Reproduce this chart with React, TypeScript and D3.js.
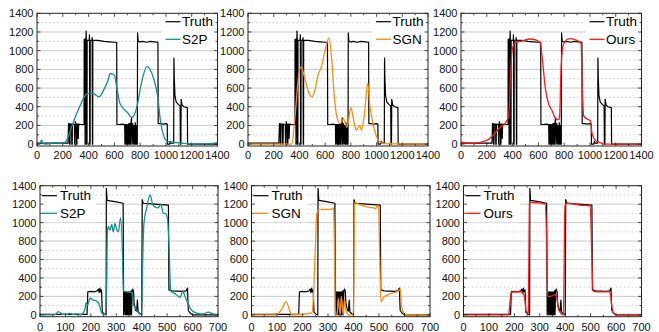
import React from 'react';
import * as d3 from 'd3';

// ---------- DATA ----------
const topXTicks = [0, 200, 400, 600, 800, 1000, 1200, 1400];
const bottomXTicks = [0, 100, 200, 300, 400, 500, 600, 700];
const yTicks = [0, 200, 400, 600, 800, 1000, 1200, 1400];

const topTruthX = [0, 240, 245, 250, 252, 256, 258, 268, 270, 273, 275, 290, 292, 295, 297, 300, 305, 307, 310, 312, 318, 320, 323, 340, 365, 366, 372, 373, 375, 376, 380, 381, 383, 385, 388, 389, 405, 407, 409, 412, 413, 426, 428, 430, 432, 433, 470, 520, 560, 600, 618, 620, 640, 660, 680, 682, 685, 690, 692, 695, 700, 703, 707, 712, 716, 720, 724, 728, 733, 736, 742, 747, 752, 757, 762, 766, 770, 775, 778, 780, 785, 800, 820, 850, 880, 910, 938, 940, 960, 980, 1000, 1010, 1012, 1030, 1035, 1040, 1060, 1062, 1065, 1070, 1080, 1100, 1110, 1112, 1116, 1118, 1125, 1140, 1166, 1168, 1400];
const topTruthY = [10, 10, 220, 220, 0, 0, 215, 215, 0, 0, 215, 210, 0, 0, 240, 220, 215, 0, 0, 215, 215, 60, 215, 210, 210, 1120, 1120, 0, 0, 1130, 1120, 1210, 1120, 0, 0, 1110, 1110, 1170, 0, 0, 1110, 1110, 1140, 0, 0, 1110, 1110, 1100, 1095, 1090, 1090, 210, 210, 215, 210, 0, 210, 210, 0, 210, 0, 210, 0, 220, 0, 220, 0, 220, 280, 0, 220, 0, 200, 0, 230, 0, 200, 0, 0, 1190, 1100, 1095, 1100, 1090, 1100, 1095, 1090, 220, 220, 215, 220, 215, 0, 0, 30, 10, 10, 920, 700, 520, 450, 420, 410, 0, 0, 480, 420, 400, 390, 0, 0];

const topS2PX = [0, 20, 36, 48, 70, 140, 200, 230, 260, 300, 340, 380, 412, 440, 482, 510, 550, 568, 600, 620, 640, 670, 700, 737, 775, 805, 853, 905, 937, 957, 985, 1010, 1050, 1100, 1150, 1200, 1350, 1400];
const topS2PY = [0, 5, 43, 5, 0, 15, 5, 40, 150, 300, 430, 530, 549, 540, 506, 560, 680, 756, 740, 600, 450, 380, 340, 285, 400, 620, 830, 700, 500, 250, 80, 30, 20, 15, 5, 0, 5, 15];

const topSGNX = [0, 340, 366, 391, 412, 443, 470, 499, 521, 545, 570, 599, 630, 651, 672, 690, 717, 743, 769, 782, 799, 830, 843, 869, 882, 908, 931, 949, 975, 1014, 1050, 1400];
const topSGNY = [0, 0, 300, 700, 827, 700, 560, 505, 580, 740, 820, 1000, 1138, 900, 500, 300, 220, 270, 180, 250, 392, 200, 150, 200, 150, 350, 649, 400, 200, 40, 5, 0];

const topOursX = [0, 96, 200, 230, 278, 303, 342, 370, 383, 396, 422, 460, 538, 615, 628, 654, 680, 706, 731, 757, 765, 776, 791, 822, 848, 913, 931, 941, 952, 978, 1004, 1016, 1042, 1081, 1120, 1400];
const topOursY = [20, 10, 40, 70, 140, 180, 221, 300, 700, 1000, 1090, 1100, 1125, 1090, 950, 600, 430, 360, 280, 260, 300, 800, 1050, 1120, 1130, 1100, 1080, 600, 300, 270, 250, 120, 40, 15, 0, 0];

const botTruthX = [0, 185, 188, 200, 215, 225, 230, 233, 236, 238, 242, 245, 252, 258, 260, 261, 264, 300, 327, 329, 333, 335, 338, 340, 343, 345, 348, 350, 353, 355, 358, 360, 362, 365, 368, 370, 376, 380, 383, 386, 395, 400, 402, 406, 450, 505, 507, 520, 560, 575, 580, 583, 590, 600, 700];
const botTruthY = [5, 5, 250, 255, 250, 260, 280, 240, 290, 250, 270, 30, 10, 0, 0, 1370, 1240, 1225, 1210, 0, 250, 0, 250, 0, 250, 0, 250, 0, 250, 0, 260, 0, 260, 280, 250, 130, 50, 40, 160, 30, 10, 0, 1250, 1210, 1200, 1190, 270, 260, 255, 260, 290, 50, 20, 0, 0];

const botS2PX = [0, 60, 72, 90, 105, 115, 130, 147, 161, 177, 181, 186, 197, 210, 223, 230, 236, 243, 252, 256, 262, 265, 269, 275, 282, 288, 295, 301, 308, 317, 324, 328, 341, 361, 367, 380, 393, 400, 404, 409, 419, 433, 443, 452, 465, 475, 485, 492, 501, 508, 514, 531, 544, 551, 557, 561, 570, 583, 596, 616, 642, 662, 681, 700];
const botS2PY = [0, 2, 36, 5, 5, 15, 5, 10, 0, 60, 133, 100, 180, 160, 150, 130, 80, 20, 5, 10, 300, 900, 960, 920, 980, 900, 990, 930, 900, 1050, 700, 260, 250, 240, 120, 50, 10, 0, 600, 1000, 1150, 1300, 1200, 1170, 1160, 1200, 1100, 1100, 1050, 700, 260, 230, 200, 190, 230, 260, 200, 120, 50, 20, 10, 30, 10, 0];

const botSGNX = [0, 99, 118, 136, 148, 158, 237, 243, 250, 256, 263, 315, 322, 326, 329, 336, 340, 348, 352, 360, 364, 372, 381, 400, 404, 420, 453, 479, 487, 492, 498, 503, 508, 518, 537, 558, 577, 584, 588, 597, 610, 700];
const botSGNY = [0, 0, 60, 144, 60, 0, 20, 200, 700, 1100, 1140, 1145, 1160, 600, 0, 0, 180, 0, 200, 0, 160, 30, 0, 0, 1220, 1200, 1170, 1160, 1150, 1180, 1180, 600, 140, 190, 220, 240, 260, 280, 100, 20, 0, 0];

const botOursX = [0, 178, 180, 188, 196, 222, 235, 242, 246, 255, 259, 262, 288, 321, 327, 331, 340, 360, 366, 373, 382, 393, 399, 406, 458, 498, 505, 509, 524, 576, 583, 589, 602, 700];
const botOursY = [0, 0, 50, 240, 250, 250, 230, 150, 40, 20, 1200, 1220, 1215, 1200, 800, 200, 200, 220, 200, 70, 20, 0, 1180, 1210, 1190, 1180, 600, 260, 250, 250, 100, 20, 0, 0];

// ---------- LAYOUT ----------
const W = 659;
const H = 332;
const TEAL = '#138f8f';
const ORANGE = '#ff8c0a';
const RED = '#ff1a1a';
const FONT = '"Liberation Sans", Arial, sans-serif';

type Frame = { left: number; right: number; top: number; bottom: number };

interface PanelProps {
  id: string;
  frame: Frame;
  xMax: number;
  xTicks: number[];
  xMinorStep: number;
  truthX: number[];
  truthY: number[];
  predX: number[];
  predY: number[];
  color: string;
  name: string;
  legendRight: boolean;
  labelDy: number;
  legendRows: [number, number];
}

function Panel(p: PanelProps) {
  const { frame } = p;
  const x = d3.scaleLinear().domain([0, p.xMax]).range([frame.left, frame.right]);
  const y = d3.scaleLinear().domain([-20, 1400]).range([frame.bottom, frame.top]);
  const truth = p.truthX.map((v, i) => [v, p.truthY[i]] as [number, number]);
  const pred = p.predX.map((v, i) => [v, p.predY[i]] as [number, number]);
  const lineLin = d3.line<[number, number]>().x(d => x(d[0])).y(d => y(d[1]));
  const lineSmooth = d3
    .line<[number, number]>()
    .x(d => x(d[0]))
    .y(d => y(d[1]))
    .curve(d3.curveMonotoneX);
  const minorY = d3.range(100, 1400, 200);
  const majorY = d3.range(200, 1400, 200);
  const xMinor = d3.range(0, p.xMax + 1, p.xMinorStep);
  const yMinorTicks = d3.range(0, 1401, 100);

  const legW = 56;
  const legX = p.legendRight ? frame.right - legW : frame.left + 1;
  const lineX0 = p.legendRight ? frame.right - 52 : frame.left + 2;
  const textX = lineX0 + (p.legendRight ? 16.5 : 18);
  const r1 = frame.top + p.legendRows[0];
  const r2 = frame.top + p.legendRows[1];

  return (
    <g>
      <defs>
        <clipPath id={p.id}>
          <rect x={frame.left} y={frame.top} width={frame.right - frame.left} height={frame.bottom - frame.top} />
        </clipPath>
      </defs>
      <rect x={frame.left} y={frame.top} width={frame.right - frame.left} height={frame.bottom - frame.top} fill="#fff" />
      {minorY.map(v => (
        <line key={'mi' + v} x1={frame.left} x2={frame.right} y1={y(v)} y2={y(v)} stroke="#cfcfcf" strokeWidth={0.8} strokeDasharray="2,2" />
      ))}
      {majorY.map(v => (
        <line key={'ma' + v} x1={frame.left} x2={frame.right} y1={y(v)} y2={y(v)} stroke="#c4c4c4" strokeWidth={0.9} />
      ))}
      <g clipPath={`url(#${p.id})`}>
        <path d={lineLin(truth) || ''} fill="none" stroke="#000" strokeWidth={1.2} strokeLinejoin="round" />
        <path d={lineSmooth(pred) || ''} fill="none" stroke={p.color} strokeWidth={1.3} strokeLinejoin="round" />
      </g>
      {/* legend */}
      <rect x={legX} y={frame.top + 1} width={legW - 1} height={p.legendRows[1] + 8} fill="#fff" />
      <line x1={lineX0} x2={lineX0 + 15} y1={r1} y2={r1} stroke="#000" strokeWidth={1.2} />
      <text x={textX} y={r1} dy="0.35em" fontSize={13.5} fontFamily={FONT} fill="#000">Truth</text>
      <line x1={lineX0} x2={lineX0 + 15} y1={r2} y2={r2} stroke={p.color} strokeWidth={1.3} />
      <text x={textX} y={r2} dy="0.35em" fontSize={13.5} fontFamily={FONT} fill="#000">{p.name}</text>
      {/* ticks */}
      {xMinor.map(v => {
        const major = p.xTicks.includes(v);
        const l = major ? 3.5 : 2;
        return (
          <g key={'xt' + v}>
            <line x1={x(v)} x2={x(v)} y1={frame.bottom} y2={frame.bottom - l} stroke="#222" strokeWidth={0.8} />
            <line x1={x(v)} x2={x(v)} y1={frame.top} y2={frame.top + l} stroke="#222" strokeWidth={0.8} />
          </g>
        );
      })}
      {yMinorTicks.map(v => {
        const major = v % 200 === 0;
        const l = major ? 3.5 : 2;
        return (
          <g key={'yt' + v}>
            <line x1={frame.left} x2={frame.left + l} y1={y(v)} y2={y(v)} stroke="#222" strokeWidth={0.8} />
            <line x1={frame.right} x2={frame.right - l} y1={y(v)} y2={y(v)} stroke="#222" strokeWidth={0.8} />
          </g>
        );
      })}
      <rect x={frame.left} y={frame.top} width={frame.right - frame.left} height={frame.bottom - frame.top} fill="none" stroke="#222" strokeWidth={1} />
      {yTicks.map(v => (
        <text key={'yl' + v} x={frame.left - 3.5} y={y(v)} dy="0.36em" textAnchor="end" fontSize={11} fontFamily={FONT} fill="#111">
          {v}
        </text>
      ))}
      {p.xTicks.map(v => (
        <text key={'xl' + v} x={x(v)} y={frame.bottom + p.labelDy} textAnchor="middle" fontSize={11} fontFamily={FONT} fill="#111">
          {v}
        </text>
      ))}
    </g>
  );
}

export default function App() {
  const topF = (l: number, r: number): Frame => ({ left: l, right: r, top: 13.3, bottom: 146 });
  const botF = (l: number, r: number): Frame => ({ left: l, right: r, top: 185.7, bottom: 316.7 });
  return (
    <svg width={W} height={H} style={{ position: 'absolute', left: 0, top: 0, background: '#fff' }}>
      <rect width={W} height={H} fill="#fff" />
      <Panel id="c1" frame={topF(37, 217.5)} xMax={1400} xTicks={topXTicks} xMinorStep={100} truthX={topTruthX} truthY={topTruthY} predX={topS2PX} predY={topS2PY} color={TEAL} name="S2P" legendRight={true} labelDy={13} legendRows={[8.4, 26]} />
      <Panel id="c2" frame={topF(248, 428)} xMax={1400} xTicks={topXTicks} xMinorStep={100} truthX={topTruthX} truthY={topTruthY} predX={topSGNX} predY={topSGNY} color={ORANGE} name="SGN" legendRight={true} labelDy={13} legendRows={[8.4, 26]} />
      <Panel id="c3" frame={topF(461, 641.5)} xMax={1400} xTicks={topXTicks} xMinorStep={100} truthX={topTruthX} truthY={topTruthY} predX={topOursX} predY={topOursY} color={RED} name="Ours" legendRight={true} labelDy={13} legendRows={[8.4, 26]} />
      <Panel id="c4" frame={botF(40, 218)} xMax={700} xTicks={bottomXTicks} xMinorStep={50} truthX={botTruthX} truthY={botTruthY} predX={botS2PX} predY={botS2PY} color={TEAL} name="S2P" legendRight={false} labelDy={13.8} legendRows={[10, 27.6]} />
      <Panel id="c5" frame={botF(251.5, 430)} xMax={700} xTicks={bottomXTicks} xMinorStep={50} truthX={botTruthX} truthY={botTruthY} predX={botSGNX} predY={botSGNY} color={ORANGE} name="SGN" legendRight={false} labelDy={13.8} legendRows={[10, 27.6]} />
      <Panel id="c6" frame={botF(463.5, 641.5)} xMax={700} xTicks={bottomXTicks} xMinorStep={50} truthX={botTruthX} truthY={botTruthY} predX={botOursX} predY={botOursY} color={RED} name="Ours" legendRight={false} labelDy={13.8} legendRows={[10, 27.6]} />
    </svg>
  );
}
